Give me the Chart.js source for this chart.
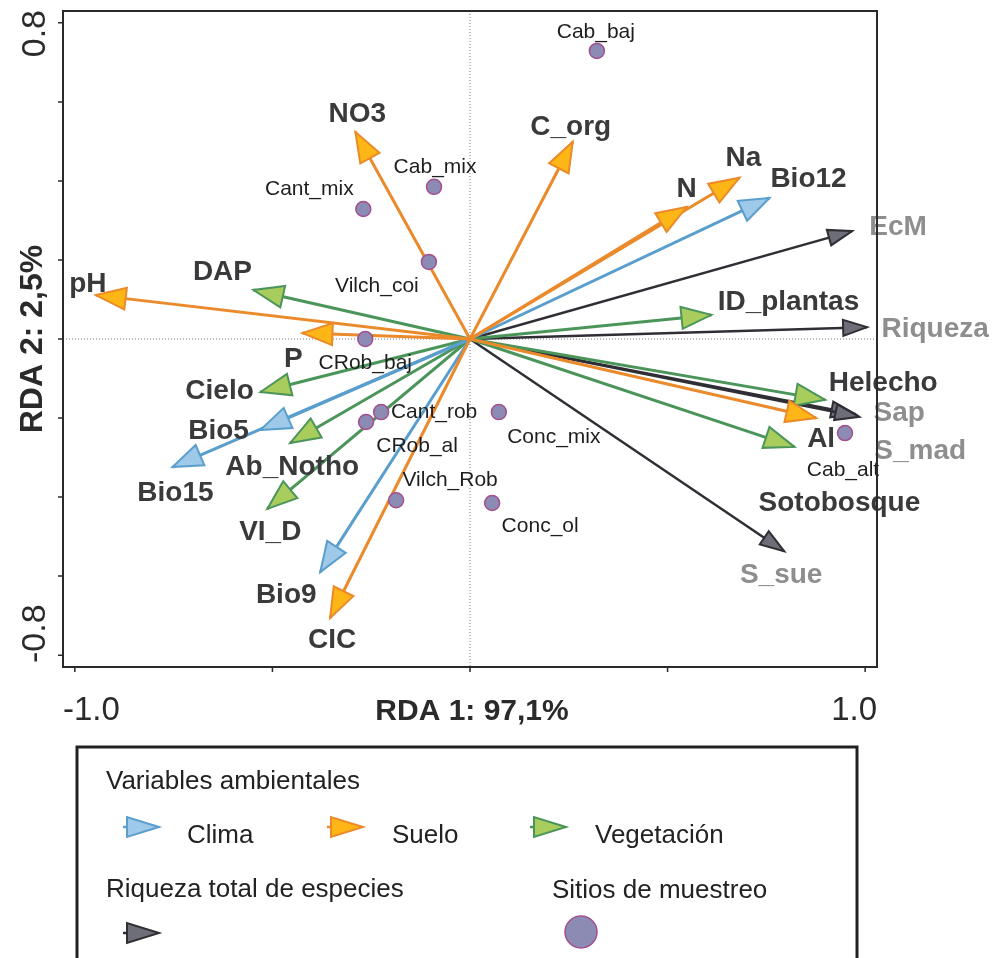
<!DOCTYPE html>
<html lang="es">
<head>
    <meta charset="UTF-8">
    <title>RDA: riqueza de especies y variables ambientales</title>
    <script src="https://cdn.jsdelivr.net/npm/chart.js@4.4.1/dist/chart.umd.min.js"></script>
    <style>
        html, body { margin: 0; padding: 0; background: #fff; }
        .wrap { position: relative; width: 997px; height: 958px; }
    </style>
</head>
<body>
    <div class="wrap"><canvas id="rda"></canvas></div>

    <script>
        // vectores: variables ambientales y riqueza (RDA1, RDA2)
        const varNames = ['NO3', 'C_org', 'N', 'Na', 'pH', 'P', 'Al', 'CIC',
                          'Bio12', 'Bio5', 'Bio15', 'Bio9',
                          'DAP', 'ID_plantas', 'Cielo', 'Ab_Notho', 'VI_D', 'Helecho', 'Sotobosque',
                          'EcM', 'Riqueza', 'Sap', 'S_mad', 'S_sue'];
        const varGroup = ['suelo', 'suelo', 'suelo', 'suelo', 'suelo', 'suelo', 'suelo', 'suelo',
                          'clima', 'clima', 'clima', 'clima',
                          'veg', 'veg', 'veg', 'veg', 'veg', 'veg', 'veg',
                          'riq', 'riq', 'riq', 'riq', 'riq'];
        const varRDA1 = [-0.290, 0.260, 0.548, 0.682, -0.947, -0.424, 0.876, -0.354,
                          0.758, -0.530, -0.753, -0.379,
                         -0.548, 0.611, -0.530, -0.455, -0.513, 0.899, 0.821,
                          0.967, 1.005, 0.985, 0.975, 0.795];
        const varRDA2 = [0.524, 0.499, 0.334, 0.408, 0.111, 0.015, -0.200, -0.706,
                         0.357, -0.230, -0.324, -0.590,
                         0.124, 0.061, -0.134, -0.263, -0.430, -0.154, -0.273,
                         0.273, 0.030, -0.197, -0.190, -0.537];

        // sitios de muestreo
        const siteNames = ['Cab_baj', 'Cab_mix', 'Cant_mix', 'Vilch_coi', 'CRob_baj', 'Cant_rob',
                           'CRob_al', 'Conc_mix', 'Vilch_Rob', 'Conc_ol', 'Cab_alt'];
        const siteRDA1 = [0.321, -0.091, -0.270, -0.104, -0.265, -0.225, -0.263, 0.073, -0.187, 0.056, 0.949];
        const siteRDA2 = [0.729, 0.385, 0.329, 0.195, 0.000, -0.185, -0.210, -0.185, -0.408, -0.415, -0.238];

        const xTicks = [-1, -0.5, 0, 0.5, 1];
        const yTicks = [-0.8, -0.6, -0.4, -0.2, 0, 0.2, 0.4, 0.6, 0.8];
        const xTickLabels = ['-1.0', '1.0'];
        const yTickLabels = ['-0.8', '0.8'];
        const xTitle = 'RDA 1: 97,1%';
        const yTitle = 'RDA 2: 2,5%';

        const legendTitle1 = 'Variables ambientales';
        const legendGroups = ['clima', 'suelo', 'veg'];
        const legendNames = ['Clima', 'Suelo', 'Vegetación'];
        const legendTitle2 = 'Riqueza total de especies';
        const legendTitle3 = 'Sitios de muestreo';

        // estilos
        const FONT = "'Liberation Sans', Arial, sans-serif";
        const groupStyle = {
            clima: { line: '#5a9ecd', fill: '#9ec9e8', width: 3, len: 30, half: 11 },
            suelo: { line: '#ea8a2a', fill: '#fdb616', width: 3, len: 30, half: 11 },
            veg:   { line: '#4c955a', fill: '#a8cd5d', width: 3, len: 30, half: 11 },
            riq:   { line: '#2e2e34', fill: '#6e6e79', width: 2.5, len: 24, half: 8 }
        };
        // desplazamiento de las etiquetas respecto a la punta (px)
        const labelOffset = {
            NO3: [2, -18], C_org: [-2, -15], N: [0, -18], Na: [4, -19], pH: [-8, -11], P: [-9, 26],
            Al: [5, 21], CIC: [2, 22], Bio12: [39, -19], Bio5: [-42, 1], Bio15: [3, 26], Bio9: [-34, 23],
            DAP: [-31, -18], ID_plantas: [77, -13], Cielo: [-41, -1], Ab_Notho: [2, 24], VI_D: [3, 23],
            Helecho: [58, -17], Sotobosque: [45, 56], EcM: [46, -4], Riqueza: [68, 2], Sap: [40, -4],
            S_mad: [65, 37], S_sue: [-3, 24],
            Cab_baj: [-1, -19], Cab_mix: [1, -20], Cant_mix: [-54, -20], Vilch_coi: [-52, 24],
            CRob_baj: [0, 24], Cant_rob: [53, 0], CRob_al: [51, 24], Vilch_Rob: [54, -20],
            Conc_mix: [55, 25], Conc_ol: [48, 23], Cab_alt: [-2, 37]
        };

        function arrowHead(ctx, x0, y0, x1, y1, st) {
            const a = Math.atan2(y1 - y0, x1 - x0);
            ctx.save();
            ctx.translate(x1, y1);
            ctx.rotate(a);
            ctx.beginPath();
            ctx.moveTo(0, 0);
            ctx.lineTo(-st.len, -st.half);
            ctx.lineTo(-st.len, st.half);
            ctx.closePath();
            ctx.fillStyle = st.fill;
            ctx.fill();
            ctx.lineWidth = 2;
            ctx.lineJoin = 'miter';
            ctx.strokeStyle = st.line;
            ctx.stroke();
            ctx.restore();
        }

        function legendIcon(ctx, x, y, st) {
            ctx.save();
            ctx.strokeStyle = st.line;
            ctx.lineWidth = 2.5;
            ctx.beginPath();
            ctx.moveTo(x, y);
            ctx.lineTo(x + 8, y);
            ctx.stroke();
            ctx.beginPath();
            ctx.moveTo(x + 36, y);
            ctx.lineTo(x + 4, y - 10);
            ctx.lineTo(x + 4, y + 10);
            ctx.closePath();
            ctx.fillStyle = st.fill;
            ctx.fill();
            ctx.lineWidth = 2;
            ctx.stroke();
            ctx.restore();
        }

        // conjuntos de datos
        const datasets = [{
            label: 'Sitios',
            data: siteNames.map((n, i) => ({ x: siteRDA1[i], y: siteRDA2[i] })),
            pointRadius: 7.5,
            pointBackgroundColor: '#8b8bb4',
            pointBorderColor: '#a34f90',
            pointBorderWidth: 1.5,
            showLine: false
        }];
        varNames.forEach((n, i) => {
            const st = groupStyle[varGroup[i]];
            datasets.push({
                label: n,
                arrow: true,
                group: varGroup[i],
                data: [{ x: 0, y: 0 }, { x: varRDA1[i], y: varRDA2[i] }],
                showLine: true,
                borderColor: st.line,
                borderWidth: st.width,
                pointRadius: 0,
                clip: false
            });
        });

        const rdaPlugin = {
            id: 'rdaDecor',
            beforeDatasetsDraw(chart) {
                const { ctx, chartArea: a, scales: { x, y } } = chart;
                ctx.save();
                ctx.strokeStyle = '#777';
                ctx.lineWidth = 1;
                ctx.setLineDash([1, 2]);
                ctx.beginPath();
                ctx.moveTo(x.getPixelForValue(0), a.top);
                ctx.lineTo(x.getPixelForValue(0), a.bottom);
                ctx.moveTo(a.left, y.getPixelForValue(0));
                ctx.lineTo(a.right, y.getPixelForValue(0));
                ctx.stroke();
                ctx.restore();
            },
            afterDatasetDraw(chart, args) {
                const ds = chart.data.datasets[args.index];
                if (!ds.arrow) return;
                const pts = args.meta.data;
                arrowHead(chart.ctx, pts[0].x, pts[0].y, pts[1].x, pts[1].y, groupStyle[ds.group]);
            },
            afterDatasetsDraw(chart) {
                const { ctx, scales: { x, y } } = chart;
                ctx.save();
                ctx.textAlign = 'center';
                ctx.textBaseline = 'middle';
                // etiquetas de vectores
                ctx.font = 'bold 28px ' + FONT;
                varNames.forEach((n, i) => {
                    const o = labelOffset[n] || [0, 0];
                    ctx.fillStyle = varGroup[i] === 'riq' ? '#8e8e8e' : '#3a3a3c';
                    ctx.fillText(n, x.getPixelForValue(varRDA1[i]) + o[0], y.getPixelForValue(varRDA2[i]) + o[1]);
                });
                // etiquetas de sitios
                ctx.font = '21px ' + FONT;
                ctx.fillStyle = '#1e1e1e';
                siteNames.forEach((n, i) => {
                    const o = labelOffset[n] || [0, 0];
                    ctx.fillText(n, x.getPixelForValue(siteRDA1[i]) + o[0], y.getPixelForValue(siteRDA2[i]) + o[1]);
                });
                ctx.restore();
            },
            afterDraw(chart) {
                const { ctx, chartArea: a, scales: { x, y } } = chart;
                ctx.save();
                // marco y marcas
                ctx.strokeStyle = '#2a2a2a';
                ctx.lineWidth = 2;
                ctx.strokeRect(a.left, a.top, a.right - a.left, a.bottom - a.top);
                ctx.lineWidth = 1.5;
                ctx.beginPath();
                xTicks.forEach(t => {
                    const px = x.getPixelForValue(t);
                    ctx.moveTo(px, a.bottom);
                    ctx.lineTo(px, a.bottom + 5);
                });
                yTicks.forEach(t => {
                    const py = y.getPixelForValue(t);
                    ctx.moveTo(a.left, py);
                    ctx.lineTo(a.left - 5, py);
                });
                ctx.stroke();

                // etiquetas de ejes
                ctx.fillStyle = '#2a2a2a';
                ctx.textBaseline = 'alphabetic';
                ctx.font = '33px ' + FONT;
                ctx.textAlign = 'left';
                ctx.fillText(xTickLabels[0], a.left, 720);
                ctx.textAlign = 'right';
                ctx.fillText(xTickLabels[1], a.right, 720);
                ctx.font = 'bold 30px ' + FONT;
                ctx.textAlign = 'center';
                ctx.fillText(xTitle, (a.left + a.right) / 2 + 2, 720);

                ctx.save();
                ctx.translate(45, 0);
                ctx.rotate(-Math.PI / 2);
                ctx.font = '34px ' + FONT;
                ctx.textAlign = 'left';
                ctx.fillText(yTickLabels[0], -a.bottom + 4, 0);
                ctx.textAlign = 'right';
                ctx.fillText(yTickLabels[1], -a.top + 1, 0);
                ctx.restore();

                ctx.save();
                ctx.translate(42, y.getPixelForValue(0));
                ctx.rotate(-Math.PI / 2);
                ctx.font = 'bold 32px ' + FONT;
                ctx.textAlign = 'center';
                ctx.fillText(yTitle, 0, 0);
                ctx.restore();

                // leyenda
                ctx.strokeStyle = '#222';
                ctx.lineWidth = 3;
                ctx.strokeRect(77, 747, 780, 240);
                ctx.fillStyle = '#222';
                ctx.font = '26px ' + FONT;
                ctx.textAlign = 'left';
                ctx.fillText(legendTitle1, 106, 789);
                const iconX = [123, 327, 530];
                const textX = [187, 392, 595];
                legendGroups.forEach((g, i) => {
                    legendIcon(ctx, iconX[i], 827, groupStyle[g]);
                    ctx.fillStyle = '#222';
                    ctx.fillText(legendNames[i], textX[i], 843);
                });
                ctx.fillText(legendTitle2, 106, 897);
                ctx.fillText(legendTitle3, 552, 898);
                legendIcon(ctx, 123, 933, groupStyle.riq);
                ctx.beginPath();
                ctx.arc(581, 932, 16, 0, Math.PI * 2);
                ctx.fillStyle = '#8b8bb4';
                ctx.fill();
                ctx.lineWidth = 1.5;
                ctx.strokeStyle = '#a34f90';
                ctx.stroke();
                ctx.restore();
            }
        };

        new Chart(document.getElementById('rda'), {
            type: 'scatter',
            data: { datasets: datasets },
            options: {
                responsive: true,
                maintainAspectRatio: false,
                animation: false,
                devicePixelRatio: 1,
                layout: { padding: { left: 63, right: 120, top: 11, bottom: 291 } },
                scales: {
                    x: { type: 'linear', min: -1.03, max: 1.03, display: false },
                    y: { type: 'linear', min: -0.83, max: 0.83, display: false }
                },
                plugins: {
                    legend: { display: false },
                    tooltip: { enabled: false }
                }
            },
            plugins: [rdaPlugin]
        });
    </script>
</body>
</html>
